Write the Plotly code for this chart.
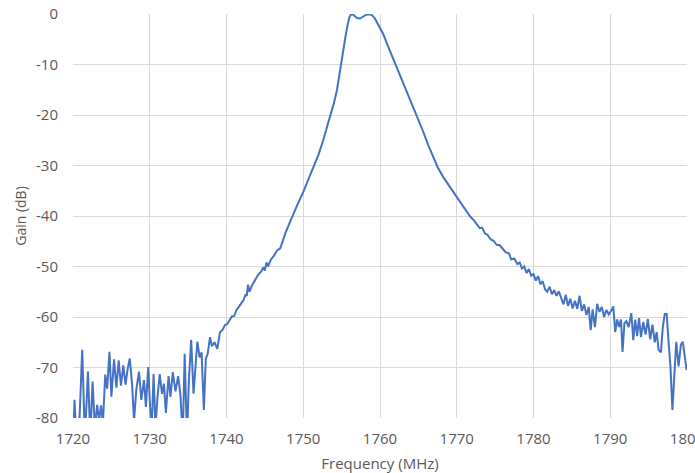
import plotly.graph_objects as go

freq_mhz = [
    1720.0, 1720.2, 1720.45, 1720.8, 1721.2, 1721.55, 1721.95, 1722.25, 1722.55, 1722.85,
    1723.15, 1723.4, 1723.65, 1723.9, 1724.2, 1724.45, 1724.75, 1725.0, 1725.35, 1725.65,
    1725.95, 1726.25, 1726.55, 1726.85, 1727.1, 1727.4, 1727.7, 1727.95, 1728.25, 1728.6,
    1728.9, 1729.25, 1729.5, 1729.8, 1730.05, 1730.25, 1730.5, 1730.75, 1731.0, 1731.3,
    1731.6, 1731.85, 1732.1, 1732.45, 1732.7, 1733.0, 1733.35, 1733.7, 1734.0, 1734.3,
    1734.55, 1734.85, 1735.1, 1735.4, 1735.7, 1735.95, 1736.2, 1736.5, 1736.75, 1737.05,
    1737.3, 1737.55, 1737.85, 1738.1, 1738.45, 1738.8, 1739.15, 1739.5, 1739.8, 1740.1,
    1740.4, 1740.7, 1741.0, 1741.3, 1741.6, 1741.9, 1742.2, 1742.5, 1742.65, 1742.8,
    1743.0, 1743.3, 1743.7, 1744.1, 1744.5, 1744.8, 1745.0, 1745.2, 1745.4, 1745.8,
    1746.2, 1746.6, 1747.0, 1747.3, 1747.7, 1748.1, 1748.6, 1749.2, 1749.9, 1750.6,
    1751.4, 1752.0, 1752.6, 1753.1, 1753.6, 1754.0, 1754.4, 1754.9, 1755.2, 1755.5,
    1755.8, 1756.0, 1756.2, 1756.45, 1756.7, 1757.0, 1757.4, 1757.8, 1758.2, 1758.6,
    1758.95, 1759.3, 1759.7, 1760.1, 1760.4, 1761.0, 1761.6, 1762.2, 1763.0, 1764.0,
    1764.8, 1765.6, 1766.3, 1767.0, 1767.5, 1768.2, 1768.9, 1769.6, 1770.3, 1771.0,
    1771.7, 1772.2, 1772.6, 1773.0, 1773.3, 1773.7, 1774.0, 1774.4, 1774.8, 1775.2,
    1775.6, 1776.0, 1776.4, 1776.8, 1777.1, 1777.5, 1777.9, 1778.2, 1778.5, 1778.8,
    1779.1, 1779.4, 1779.7, 1780.0, 1780.3, 1780.6, 1780.9, 1781.2, 1781.5, 1781.8,
    1782.1, 1782.4, 1782.7, 1783.0, 1783.3, 1783.6, 1783.9, 1784.2, 1784.5, 1784.8,
    1785.1, 1785.4, 1785.7, 1786.0, 1786.3, 1786.6, 1786.9, 1787.2, 1787.45, 1787.7,
    1788.0, 1788.3, 1788.6, 1788.9, 1789.2, 1789.5, 1789.8, 1790.1, 1790.4, 1790.65,
    1790.9, 1791.15, 1791.4, 1791.6, 1791.85, 1792.1, 1792.4, 1792.75, 1793.0, 1793.25,
    1793.5, 1793.75, 1794.0, 1794.3, 1794.6, 1794.9, 1795.2, 1795.5, 1795.8, 1796.05,
    1796.3, 1796.6, 1796.85, 1797.1, 1797.35, 1797.6, 1797.85, 1798.1, 1798.35, 1798.6,
    1798.9, 1799.2, 1799.45, 1799.7, 1799.95,
]

gain_db = [
    -85.0, -76.4, -85.0, -82.0, -66.5, -84.0, -70.8, -84.0, -72.8, -82.0,
    -77.4, -80.5, -77.5, -81.0, -71.4, -74.2, -66.9, -75.8, -68.4, -74.0,
    -68.6, -73.6, -69.6, -73.4, -70.5, -68.2, -73.4, -80.5, -74.4, -70.8,
    -76.4, -72.5, -77.8, -69.9, -78.0, -82.0, -71.3, -82.0, -76.0, -71.3,
    -75.2, -73.2, -79.0, -71.7, -75.8, -70.9, -74.7, -71.7, -75.5, -84.0,
    -67.3, -84.0, -72.5, -64.5, -75.2, -70.0, -64.9, -68.0, -67.0, -78.4,
    -68.3, -67.3, -64.0, -65.8, -65.0, -66.3, -63.0, -62.5, -61.6, -61.4,
    -60.5, -59.9, -59.8, -58.6, -58.0, -57.3, -56.7, -55.5, -55.8, -53.6,
    -55.0, -53.8, -52.6, -51.7, -51.0, -50.2, -50.8, -49.2, -50.0, -48.6,
    -47.8, -46.8, -46.4, -45.0, -43.3, -41.8, -39.9, -37.9, -35.6, -33.0,
    -30.2, -27.8, -25.0, -22.5, -20.0, -17.6, -15.0, -10.0, -7.0, -4.5,
    -2.0, -0.7, -0.1, -0.05, -0.4, -0.8, -0.9, -0.6, -0.15, -0.05,
    -0.2, -0.8, -1.9, -3.0, -3.9, -6.2, -8.4, -10.4, -13.3, -17.0,
    -20.0, -23.2, -26.0, -28.6, -30.3, -32.2, -33.8, -35.3, -36.8, -38.4,
    -40.0, -40.8, -41.6, -42.4, -42.3, -43.5, -43.7, -44.6, -44.9, -45.7,
    -45.8, -46.6, -47.2, -47.4, -48.6, -48.4, -49.5, -49.2, -50.4, -50.0,
    -51.3, -50.5, -51.8, -51.5, -52.8, -51.9, -53.5, -52.9, -54.5, -55.0,
    -54.0, -55.5, -54.7, -55.8, -54.9, -56.2, -57.5, -55.6, -57.8, -56.4,
    -58.3, -56.8, -58.4, -55.8, -58.8, -57.5, -59.6, -58.0, -62.6, -58.5,
    -62.0, -57.4, -59.0, -58.0, -60.0, -58.6, -59.5, -58.8, -57.9, -63.0,
    -60.5, -62.0, -60.5, -66.9, -61.2, -60.8, -62.0, -59.2, -64.6, -60.5,
    -63.8, -60.2, -64.0, -61.0, -63.5, -60.4, -64.4, -61.5, -65.0, -63.0,
    -66.5, -67.0, -62.0, -59.4, -59.4, -65.0, -70.0, -78.4, -70.0, -64.9,
    -69.8, -65.5, -64.9, -68.0, -70.5,
]

x_ticks = [1720, 1730, 1740, 1750, 1760, 1770, 1780, 1790, 1800]
y_ticks = [0, -10, -20, -30, -40, -50, -60, -70, -80]

x_title = "Frequency (MHz)"
y_title = "Gain (dB)"

fig = go.Figure()
fig.add_trace(go.Scatter(
    x=freq_mhz, y=gain_db, mode="lines",
    line=dict(color="#4472C4", width=2),
    showlegend=False,
))

font_family = "Open Sans, Liberation Sans, sans-serif"
fig.update_layout(
    width=695, height=473,
    margin=dict(l=73, r=8, t=14, b=55, autoexpand=False),
    paper_bgcolor="white", plot_bgcolor="white",
    font=dict(family=font_family, size=15, color="#595959"),
)
fig.update_xaxes(
    range=[1720, 1800], tickvals=x_ticks, ticktext=[str(v) for v in x_ticks],
    showgrid=True, gridcolor="#d9d9d9", gridwidth=1,
    zeroline=False, showline=False, ticks="",
    ticklabelstandoff=10, ticklabeloverflow="allow", automargin=False,
    tickfont=dict(size=15),
    title=dict(text=x_title, font=dict(size=15, color="#595959"), standoff=12),
)
fig.update_yaxes(
    range=[-80, 0], tickvals=y_ticks, ticktext=[str(v) for v in y_ticks],
    showgrid=True, gridcolor="#d9d9d9", gridwidth=1,
    zeroline=False, showline=False, ticks="",
    ticklabelstandoff=14, ticklabeloverflow="allow", automargin=False,
    tickfont=dict(size=15),
    title=dict(text=y_title, font=dict(size=14, color="#595959"), standoff=6),
)

fig.write_html(
    "out.html",
    config={"displayModeBar": False},
    post_script="document.body.style.margin='0';document.body.style.overflow='hidden';",
)
